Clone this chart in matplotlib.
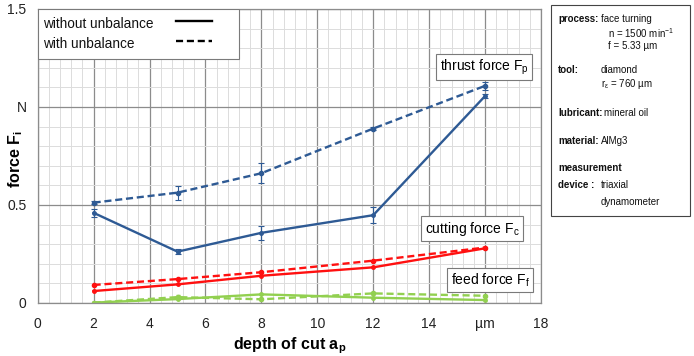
import matplotlib
matplotlib.use("Agg")
import matplotlib.pyplot as plt
from matplotlib.ticker import MultipleLocator, FixedLocator, FixedFormatter
from matplotlib.lines import Line2D
from matplotlib.patches import Rectangle

plt.rcParams['font.family'] = ['Liberation Sans', 'DejaVu Sans']

# depth of cut a_p in µm
depth = [2, 5, 8, 12, 16]

# thrust force F_p
thrust_without = [0.46, 0.262, 0.358, 0.448, 1.056]
thrust_without_err = [0.02, 0.013, 0.035, 0.04, 0.008]
thrust_with = [0.512, 0.563, 0.662, 0.89, 1.108]
thrust_with_err = [0.008, 0.035, 0.05, 0.008, 0.02]

# cutting force F_c
cutting_without = [0.061, 0.095, 0.139, 0.182, 0.279]
cutting_with = [0.092, 0.122, 0.157, 0.216, 0.283]

# feed force F_f
feed_without = [0.002, 0.02, 0.044, 0.027, 0.015]
feed_with = [0.002, 0.03, 0.019, 0.049, 0.037]
feed_with_err = [0.002, 0.012, 0.006, 0.006, 0.006]

x_ticks = [0, 2, 4, 6, 8, 10, 12, 14, 16, 18]
x_labels = ['0', '2', '4', '6', '8', '10', '12', '14', 'µm', '18']
y_ticks = [0, 0.5, 1.0, 1.5]
y_labels = ['0', '0.5', 'N', '1.5']

blue = '#2E5A94'
red = '#FF1010'
green = '#92D050'
dash = (0, (3, 1.6))

W, H = 694.0, 356.0
fig = plt.figure(figsize=(W / 100, H / 100), dpi=100)
AX_L, AX_R, AX_T, AX_B = 37.7, 541.0, 9.0, 303.0
ax = fig.add_axes([AX_L / W, 1 - AX_B / H, (AX_R - AX_L) / W, (AX_B - AX_T) / H])
ax.set_xlim(0, 18)
ax.set_ylim(0, 1.5)


def axc(px, py):
    """pixel position -> axes fraction"""
    return (px - AX_L) / (AX_R - AX_L), (AX_B - py) / (AX_B - AX_T)


ax.xaxis.set_major_locator(FixedLocator(x_ticks))
ax.xaxis.set_major_formatter(FixedFormatter(x_labels))
ax.yaxis.set_major_locator(FixedLocator(y_ticks))
ax.yaxis.set_major_formatter(FixedFormatter(y_labels))
ax.xaxis.set_minor_locator(MultipleLocator(0.4))
ax.yaxis.set_minor_locator(MultipleLocator(0.1))
ax.grid(which='major', color='#8c8c8c', lw=0.9)
ax.grid(which='minor', color='#dcdcdc', lw=0.7)
ax.set_axisbelow(True)
for s in ax.spines.values():
    s.set_color('#8c8c8c')
    s.set_linewidth(0.9)
ax.tick_params(which='both', length=0, labelsize=10, colors='#222222')
ax.tick_params(axis='x', pad=10)
ax.tick_params(axis='y', pad=8)

lw = 1.7
ax.errorbar(depth, thrust_without, yerr=thrust_without_err, color=blue, lw=lw,
            marker='o', ms=2.5, capsize=2, elinewidth=0.8, capthick=0.8)
ax.errorbar(depth, thrust_with, yerr=thrust_with_err, color=blue, lw=lw, ls=dash,
            marker='o', ms=3, capsize=2, elinewidth=0.8, capthick=0.8)
ax.plot(depth, cutting_without, color=red, lw=lw, marker='o', ms=2.5)
ax.plot(depth, cutting_with, color=red, lw=lw, ls=dash, marker='o', ms=3)
ax.plot(depth, feed_without, color=green, lw=lw, marker='o', ms=2.5)
ax.errorbar(depth, feed_with, yerr=feed_with_err, color=green, lw=lw, ls=dash,
            marker='o', ms=3, capsize=1.5, elinewidth=0.8)

ax.set_xlabel('depth of cut a$_\\mathregular{p}$', fontsize=11.5, fontweight='bold')
ax.xaxis.set_label_coords(0.5, -0.11)
ax.set_ylabel('force F$_\\mathregular{i}$', fontsize=11.5, fontweight='bold')
ax.yaxis.set_label_coords(-0.026, 0.49)

box = dict(boxstyle='square,pad=0.25', fc='white', ec='#7a7a7a', lw=0.8)
ax.text(15.97, 1.204, 'thrust force F$_\\mathregular{p}$', fontsize=10, ha='center', va='center', bbox=box)
ax.text(15.54, 0.378, 'cutting force F$_\\mathregular{c}$', fontsize=10, ha='center', va='center', bbox=box)
ax.text(16.18, 0.117, 'feed force F$_\\mathregular{f}$', fontsize=10, ha='center', va='center', bbox=box)

# line-style key
x0, y0 = axc(38, 9)
x1, y1 = axc(239, 59)
ax.add_patch(Rectangle((x0, y1), x1 - x0, y0 - y1, transform=ax.transAxes,
                       fc='white', ec='#7a7a7a', lw=0.8, zorder=5))
for py, label, style in [(24, 'without unbalance', '-'), (44, 'with unbalance', dash)]:
    tx, ty = axc(43, py)
    ax.text(tx, ty, label, fontsize=9.8, ha='left', va='center', transform=ax.transAxes,
            zorder=6, color='#111111')
    lx0, ly = axc(176, py - 3)
    lx1, _ = axc(212, py - 3)
    ax.add_line(Line2D([lx0, lx1], [ly, ly], color='black', lw=1.7, ls=style,
                       transform=ax.transAxes, zorder=6))

# process parameter panel
px0, py0, px1, py1 = 551, 5, 690, 216
pan = Rectangle((px0 / W, 1 - py1 / H), (px1 - px0) / W, (py1 - py0) / H,
                transform=fig.transFigure, fc='white', ec='#444444', lw=0.8)
fig.add_artist(pan)


def ftext(x, y, s, bold=False, size=7.0):
    fig.text(x / W, 1 - y / H, s, fontsize=size, fontweight='bold' if bold else 'normal',
             ha='left', va='center', color='#111111')


ftext(558, 19, 'process:', bold=True)
ftext(601, 19, 'face turning')
ftext(608, 33, 'n = 1500 min$^{\\mathregular{-1}}$')
ftext(608, 46, 'f = 5.33 µm')
ftext(558, 70, 'tool:', bold=True)
ftext(601, 70, 'diamond')
ftext(601, 84, 'r$_{\\mathregular{ε}}$ = 760 µm')
ftext(558, 113, 'lubricant:', bold=True)
ftext(604, 113, 'mineral oil')
ftext(558, 141, 'material:', bold=True)
ftext(601, 141, 'AlMg3')
ftext(558, 168, 'measurement', bold=True)
ftext(558, 185, 'device :', bold=True)
ftext(601, 185, 'triaxial')
ftext(601, 202, 'dynamometer')

fig.savefig('out.png', dpi=100)
